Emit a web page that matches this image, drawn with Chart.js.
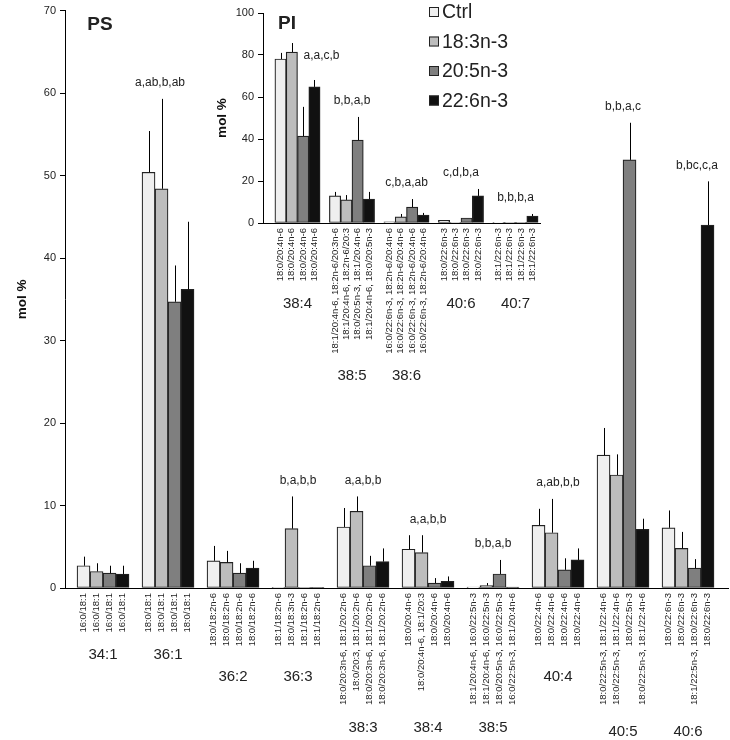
<!DOCTYPE html>
<html>
<head>
<meta charset="utf-8">
<script src="https://cdn.jsdelivr.net/npm/chart.js@4.4.1/dist/chart.umd.min.js"></script>
<style>
  body { margin: 0; background: #fff; }
  #quadro { position: relative; width: 730px; height: 740px; }
  #graficoPS { position: absolute; left: 0; top: 0; }
  #graficoPI { position: absolute; left: 200px; top: 0; }
</style>
</head>
<body>
<div id="quadro">
  <canvas id="graficoPS" width="730" height="740"></canvas>
  <canvas id="graficoPI" width="360" height="400"></canvas>
</div>
<script>
const series = ['Ctrl', '18:3n-3', '20:5n-3', '22:6n-3']
const seriesColors = ['#efefef', '#bdbdbd', '#7f7f7f', '#111111']

// PS (main panel)
const psGroups = ['34:1', '36:1', '36:2', '36:3', '38:3', '38:4', '38:5', '40:4', '40:5', '40:6']
const psTicks = [0, 10, 20, 30, 40, 50, 60, 70]
const psCtrl = [2.7, 50.4, 3.3, 0.05, 7.4, 4.7, 0.1, 7.6, 16.1, 7.3]
const psCtrlSd = [1.1, 5.0, 1.8, 0, 2.3, 1.7, 0, 2.0, 3.3, 2.1]
const psAla = [2.0, 48.4, 3.1, 7.2, 9.3, 4.3, 0.3, 6.7, 13.7, 4.8]
const psAlaSd = [1.0, 10.9, 1.4, 3.9, 1.8, 2.1, 0.3, 4.1, 2.5, 2.0]
const psEpa = [1.8, 34.7, 1.8, 0.02, 2.7, 0.6, 1.7, 2.2, 51.9, 2.4]
const psEpaSd = [0.9, 4.4, 1.2, 0, 1.2, 0.6, 1.7, 1.4, 4.5, 1.1]
const psDha = [1.7, 36.2, 2.4, 0.05, 3.2, 0.8, 0.1, 3.4, 7.1, 44.0]
const psDhaSd = [1.0, 8.2, 0.9, 0, 1.6, 0.6, 0, 1.4, 1.3, 5.3]
const psLetters = ['', 'a,ab,b,ab', '', 'b,a,b,b', 'a,a,b,b', 'a,a,b,b', 'b,b,a,b', 'a,ab,b,b', 'b,b,a,c', 'b,bc,c,a']
const psSpecies = [
  ['16:0/18:1', '16:0/18:1', '16:0/18:1', '16:0/18:1'],
  ['18:0/18:1', '18:0/18:1', '18:0/18:1', '18:0/18:1'],
  ['18:0/18:2n-6', '18:0/18:2n-6', '18:0/18:2n-6', '18:0/18:2n-6'],
  ['18:1/18:2n-6', '18:0/18:3n-3', '18:1/18:2n-6', '18:1/18:2n-6'],
  ['18:0/20:3n-6, 18:1/20:2n-6', '18:0/20:3, 18:1/20:2n-6', '18:0/20:3n-6, 18:1/20:2n-6', '18:0/20:3n-6, 18:1/20:2n-6'],
  ['18:0/20:4n-6', '18:0/20:4n-6, 18:1/20:3', '18:0/20:4n-6', '18:0/20:4n-6'],
  ['18:1/20:4n-6, 16:0/22:5n-3', '18:1/20:4n-6, 16:0/22:5n-3', '18:0/20:5n-3, 16:0/22:5n-3', '16:0/22:5n-3, 18:1/20:4n-6'],
  ['18:0/22:4n-6', '18:0/22:4n-6', '18:0/22:4n-6', '18:0/22:4n-6'],
  ['18:0/22:5n-3, 18:1/22:4n-6', '18:0/22:5n-3, 18:1/22:4n-6', '18:0/22:5n-3', '18:0/22:5n-3, 18:1/22:4n-6'],
  ['18:0/22:6n-3', '18:0/22:6n-3', '18:1/22:5n-3, 18:0/22:6n-3', '18:0/22:6n-3']
]

// PI (inset)
const piGroups = ['38:4', '38:5', '38:6', '40:6', '40:7']
const piTicks = [0, 20, 40, 60, 80, 100]
const piCtrl = [78.1, 12.9, 0.5, 1.3, 0.1]
const piCtrlSd = [2.9, 1.9, 0, 0, 0]
const piAla = [81.4, 11.0, 2.9, 0.3, 0.2]
const piAlaSd = [4.3, 2.3, 1.4, 0, 0]
const piEpa = [41.4, 39.5, 7.6, 2.4, 0.1]
const piEpaSd = [13.9, 11.0, 3.8, 0, 0]
const piDha = [64.8, 11.4, 3.8, 12.9, 3.3]
const piDhaSd = [3.3, 3.4, 1.0, 3.3, 1.0]
const piLetters = ['a,a,c,b', 'b,b,a,b', 'c,b,a,ab', 'c,d,b,a', 'b,b,b,a']
const piSpecies = [
  ['18:0/20:4n-6', '18:0/20:4n-6', '18:0/20:4n-6', '18:0/20:4n-6'],
  ['18:1/20:4n-6, 18:2n-6/20:3n-6', '18:1/20:4n-6, 18:2n-6/20:3', '18:0/20:5n-3, 18:1/20:4n-6', '18:1/20:4n-6, 18:0/20:5n-3'],
  ['16:0/22:6n-3, 18:2n-6/20:4n-6', '16:0/22:6n-3, 18:2n-6/20:4n-6', '16:0/22:6n-3, 18:2n-6/20:4n-6', '16:0/22:6n-3, 18:2n-6/20:4n-6'],
  ['18:0/22:6n-3', '18:0/22:6n-3', '18:0/22:6n-3', '18:0/22:6n-3'],
  ['18:1/22:6n-3', '18:1/22:6n-3', '18:1/22:6n-3', '18:1/22:6n-3']
]

Chart.defaults.font.family = "'Liberation Sans', Arial, sans-serif"
Chart.defaults.color = '#222'

function montaDatasets(valores) {
  return valores.map((v, s) => ({
    label: series[s],
    data: v.map((y, i) => ({ x: i, y: y })),
    backgroundColor: seriesColors[s],
    borderColor: '#222',
    borderWidth: 1.2,
    borderSkipped: false
  }))
}

// error bars, letters, rotated species names, group names, panel title, legend
const detalhes = {
  id: 'detalhes',
  afterDatasetsDraw(chart, args, opts) {
    const ctx = chart.ctx
    const yS = chart.scales.y
    ctx.save()
    ctx.strokeStyle = '#000'
    ctx.lineWidth = 1
    chart.data.datasets.forEach((ds, d) => {
      chart.getDatasetMeta(d).data.forEach((bar, i) => {
        const sd = opts.sds[d][i]
        if (!sd) return
        const x = Math.round(bar.x) + 0.5
        ctx.beginPath()
        ctx.moveTo(x, bar.y)
        ctx.lineTo(x, yS.getPixelForValue(ds.data[i].y + sd))
        ctx.stroke()
      })
    })
    ctx.restore()
  },
  afterDraw(chart, args, opts) {
    const ctx = chart.ctx
    const xS = chart.scales.x
    const yS = chart.scales.y
    const base = chart.chartArea.bottom + 5
    const n = opts.groups.length
    ctx.save()
    ctx.fillStyle = '#222'

    // letters
    ctx.font = "12px 'Liberation Sans', Arial"
    ctx.textAlign = 'center'
    ctx.textBaseline = 'middle'
    for (let i = 0; i < n; i++) {
      if (!opts.letters[i]) continue
      let topo = 0
      chart.data.datasets.forEach((ds, d) => { topo = Math.max(topo, ds.data[i].y + opts.sds[d][i]) })
      let x = xS.getPixelForValue(i)
      let y = yS.getPixelForValue(topo) - 16
      const fixo = opts.letterAt && opts.letterAt[i]
      if (fixo) {
        x += fixo.dx
        if (fixo.value !== undefined) y = yS.getPixelForValue(fixo.value)
      }
      ctx.fillText(opts.letters[i], x, y)
    }

    // species names
    ctx.font = "9.5px 'Liberation Sans', Arial"
    ctx.textAlign = 'right'
    chart.data.datasets.forEach((ds, d) => {
      chart.getDatasetMeta(d).data.forEach((bar, i) => {
        ctx.save()
        ctx.translate(bar.x, base)
        ctx.rotate(-Math.PI / 2)
        ctx.fillText(opts.species[i][d], 0, 0)
        ctx.restore()
      })
    })

    // group names
    ctx.font = "15px 'Liberation Sans', Arial"
    ctx.textAlign = 'center'
    for (let i = 0; i < n; i++) {
      ctx.fillText(opts.groups[i], xS.getPixelForValue(i), base + opts.groupDy[i])
    }

    // panel title
    ctx.font = "bold 19px 'Liberation Sans', Arial"
    ctx.fillText(opts.title, opts.titleX, opts.titleY)

    if (opts.legendX) {
      ctx.font = "19.5px 'Liberation Sans', Arial"
      ctx.textAlign = 'left'
      series.forEach((s, k) => {
        const y = opts.legendY + k * 29.5
        ctx.fillStyle = seriesColors[k]
        ctx.fillRect(opts.legendX, y - 5, 10, 10)
        ctx.strokeStyle = '#222'
        ctx.lineWidth = 1
        ctx.strokeRect(opts.legendX + 0.5, y - 4.5, 9, 9)
        ctx.fillStyle = '#222'
        ctx.fillText(s, opts.legendX + 13, y + 1)
      })
    }
    ctx.restore()
  }
}

function escalas(xMin, xMax, yMax, ticks, largura, altura) {
  return {
    x: {
      type: 'linear',
      min: xMin,
      max: xMax,
      offset: false,
      grid: { display: false },
      border: { color: '#000', width: 1 },
      ticks: { display: false, stepSize: 1 },
      afterFit: s => { s.height = altura }
    },
    y: {
      min: 0,
      max: yMax,
      afterBuildTicks: s => { s.ticks = ticks.map(v => ({ value: v })) },
      grid: { drawOnChartArea: false, tickLength: 5, color: '#000' },
      border: { color: '#000', width: 1 },
      ticks: { padding: 4, font: { size: 11 }, color: '#222' },
      title: {
        display: true,
        text: 'mol %',
        font: { size: 13.5, weight: 'bold' },
        color: '#111',
        padding: { top: 14, bottom: 0 }
      },
      afterFit: s => { s.width = largura }
    }
  }
}

new Chart(document.getElementById('graficoPS'), {
  type: 'bar',
  data: { datasets: montaDatasets([psCtrl, psAla, psEpa, psDha]) },
  options: {
    responsive: false,
    animation: false,
    barThickness: 13,
    layout: { padding: { top: 5, right: 2 } },
    scales: escalas(-0.585, 9.615, 70, psTicks, 65, 152),
    plugins: {
      legend: { display: false },
      tooltip: { enabled: false },
      detalhes: {
        groups: psGroups,
        species: psSpecies,
        letters: psLetters,
        letterAt: { 1: { dx: -8 }, 9: { dx: 9 } },
        groupDy: [62, 62, 84, 84, 135, 135, 135, 84, 139, 139],
        sds: [psCtrlSd, psAlaSd, psEpaSd, psDhaSd],
        title: 'PS', titleX: 100, titleY: 25
      }
    }
  },
  plugins: [detalhes]
})

new Chart(document.getElementById('graficoPI'), {
  type: 'bar',
  data: { datasets: montaDatasets([piCtrl, piAla, piEpa, piDha]) },
  options: {
    responsive: false,
    animation: false,
    barThickness: 11.3,
    layout: { padding: { top: 13, right: 20 } },
    scales: escalas(-0.633, 4.45, 100, piTicks, 63, 177),
    plugins: {
      legend: { display: false },
      tooltip: { enabled: false },
      detalhes: {
        groups: piGroups,
        species: piSpecies,
        letters: piLetters,
        letterAt: { 0: { dx: 24, value: 79.5 } },
        groupDy: [76, 148, 148, 76, 76],
        sds: [piCtrlSd, piAlaSd, piEpaSd, piDhaSd],
        title: 'PI', titleX: 87, titleY: 24,
        legendX: 229, legendY: 12
      }
    }
  },
  plugins: [detalhes]
})
</script>
</body>
</html>
